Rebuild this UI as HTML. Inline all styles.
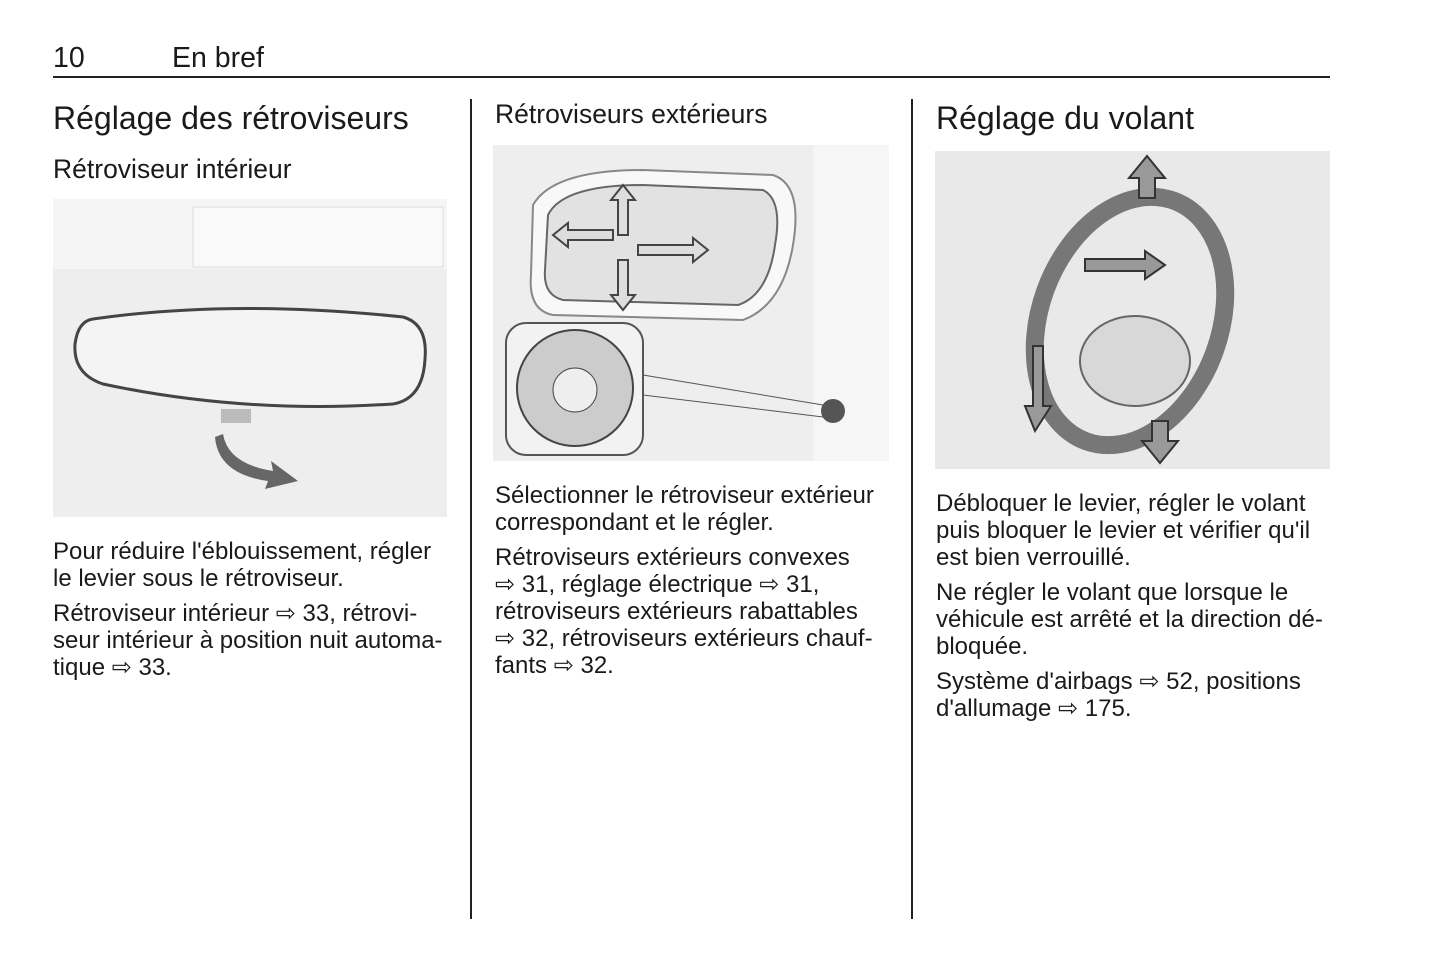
<!DOCTYPE html>
<html><head><meta charset="utf-8"><style>
body{margin:0;background:#fff;width:1445px;height:965px;position:relative;overflow:hidden;font-family:"Liberation Sans",sans-serif;color:#1a1a1a}
.a{position:absolute;white-space:nowrap}
.p{position:absolute;font-size:24px;line-height:27px;white-space:nowrap}
.p div{margin-bottom:8px}
.h1{font-size:32px}
.h2{font-size:26.5px}
.img{position:absolute;background:#eeeeee}
</style></head><body>
<div class="a" style="left:53px;top:42px;font-size:28.5px">10</div>
<div class="a" style="left:172px;top:42px;font-size:28.5px">En bref</div>
<div class="a" style="left:53px;top:76px;width:1277px;height:1.5px;background:#222"></div>
<div class="a" style="left:470px;top:99px;width:1.5px;height:820px;background:#222"></div>
<div class="a" style="left:911px;top:99px;width:1.5px;height:820px;background:#222"></div>

<div class="a h1" style="left:53px;top:100px">Réglage des rétroviseurs</div>
<div class="a h2" style="left:53px;top:154px">Rétroviseur intérieur</div>
<div class="img" style="left:53px;top:199px;width:394px;height:318px">
<svg width="394" height="318"><rect x="0" y="0" width="394" height="70" fill="#f5f5f5"/><rect x="140" y="8" width="250" height="60" fill="#f9f9f9" stroke="#ddd"/>
<path d="M40 120 Q180 100 350 118 Q375 125 372 160 Q370 200 340 205 Q190 215 50 185 Q20 175 22 145 Q25 122 40 120Z" fill="#f4f4f4" stroke="#444" stroke-width="3"/>
<rect x="168" y="210" width="30" height="14" fill="#bbb"/>
<path d="M170 235 Q175 265 220 272 L218 262 L245 282 L212 290 L215 282 Q165 275 162 238Z" fill="#666"/></svg></div>
<div class="p" style="left:53px;top:538px;width:400px">
<div>Pour réduire l'éblouissement, régler<br>le levier sous le rétroviseur.</div>
<div>Rétroviseur intérieur ⇨ 33, rétrovi-<br>seur intérieur à position nuit automa-<br>tique ⇨ 33.</div></div>

<div class="a h2" style="left:495px;top:99px">Rétroviseurs extérieurs</div>
<div class="img" style="left:493px;top:145px;width:396px;height:316px">
<svg width="396" height="316"><rect x="320" y="0" width="76" height="316" fill="#f6f6f6"/>
<path d="M40 60 Q60 25 150 25 L280 30 Q310 40 300 100 Q290 160 250 175 L60 170 Q35 165 38 130Z" fill="#f8f8f8" stroke="#888" stroke-width="2"/>
<path d="M55 70 Q70 40 150 40 L270 45 Q290 55 282 100 Q275 150 245 160 L70 155 Q50 150 52 125Z" fill="#e2e2e2" stroke="#666" stroke-width="2"/>
<g fill="#ddd" stroke="#444" stroke-width="2"><path d="M130 40 l12 15 h-7 v35 h-10 v-35 h-7z"/><path d="M130 165 l12 -15 h-7 v-35 h-10 v35 h-7z"/><path d="M60 90 l15 -12 v7 h45 v10 h-45 v7z"/><path d="M215 105 l-15 -12 v7 h-55 v10 h55 v7z"/></g>
<rect x="13" y="178" width="137" height="132" rx="20" fill="#f2f2f2" stroke="#555" stroke-width="2"/>
<circle cx="82" cy="243" r="58" fill="#ccc" stroke="#444" stroke-width="2"/><circle cx="82" cy="245" r="22" fill="#eee" stroke="#444"/>
<line x1="150" y1="230" x2="330" y2="260" stroke="#555"/><line x1="150" y1="250" x2="330" y2="272" stroke="#555"/>
<circle cx="340" cy="266" r="12" fill="#555"/></svg></div>
<div class="p" style="left:495px;top:482px;width:410px">
<div>Sélectionner le rétroviseur extérieur<br>correspondant et le régler.</div>
<div>Rétroviseurs extérieurs convexes<br>⇨ 31, réglage électrique ⇨ 31,<br>rétroviseurs extérieurs rabattables<br>⇨ 32, rétroviseurs extérieurs chauf-<br>fants ⇨ 32.</div></div>

<div class="a h1" style="left:936px;top:100px">Réglage du volant</div>
<div class="img" style="left:935px;top:151px;width:395px;height:318px">
<svg width="395" height="318"><rect width="395" height="318" fill="#e9e9e9"/>
<ellipse cx="195" cy="170" rx="90" ry="128" fill="none" stroke="#777" stroke-width="18" transform="rotate(20 195 170)"/>
<ellipse cx="200" cy="210" rx="55" ry="45" fill="#d8d8d8" stroke="#666" stroke-width="2"/>
<g fill="#999" stroke="#333" stroke-width="2"><path d="M212 5 l18 22 h-10 v20 h-16 v-20 h-10z"/><path d="M225 312 l18 -22 h-10 v-20 h-16 v20 h-10z"/><path d="M150 108 h60 v-8 l20 14 -20 14 v-8 h-60z"/><path d="M100 280 l-10 -25 h8 v-60 h10 v60 h8z"/></g></svg></div>
<div class="p" style="left:936px;top:490px;width:400px">
<div>Débloquer le levier, régler le volant<br>puis bloquer le levier et vérifier qu'il<br>est bien verrouillé.</div>
<div>Ne régler le volant que lorsque le<br>véhicule est arrêté et la direction dé-<br>bloquée.</div>
<div>Système d'airbags ⇨ 52, positions<br>d'allumage ⇨ 175.</div></div>
</body></html>
